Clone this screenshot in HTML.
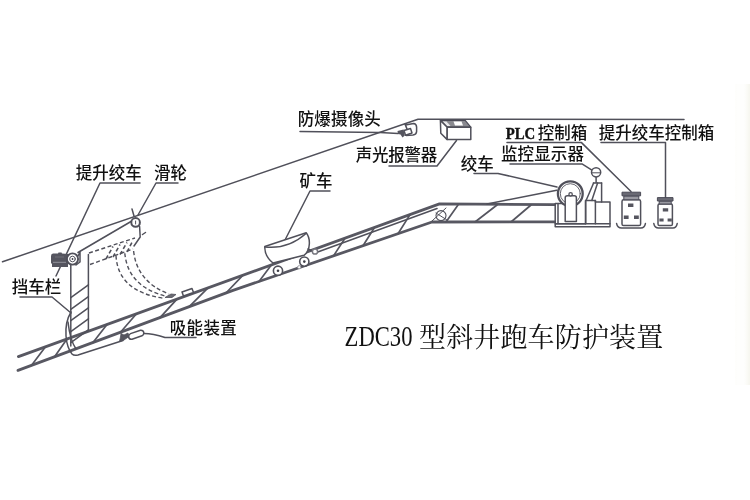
<!DOCTYPE html>
<html lang="zh-CN">
<head>
<meta charset="utf-8">
<title>ZDC30 型斜井跑车防护装置</title>
<style>
html,body{margin:0;padding:0;background:#fff;}
body{width:750px;height:500px;overflow:hidden;position:relative;}
svg{position:absolute;left:0;top:0;display:block;}
#art{filter:blur(0.35px);}
#labels{filter:blur(0.3px);}
.l{font-family:"Liberation Sans","Noto Sans CJK SC",sans-serif;font-size:16.5px;font-weight:500;fill:#111;letter-spacing:0px;}
.t{font-family:"Liberation Serif","Noto Serif CJK SC",serif;font-size:24px;fill:#111;}
.s{stroke:#50505a;stroke-width:1.5;fill:none;stroke-linecap:round;stroke-linejoin:round;}
.r{stroke:#585862;stroke-width:2.8;fill:none;stroke-linecap:round;stroke-linejoin:round;}
.b{stroke:#55555f;stroke-width:1.7;fill:none;stroke-linecap:round;}
.d{stroke:#50505a;stroke-width:1.4;fill:none;stroke-dasharray:4 2.5;}
.w{stroke:#50505a;stroke-width:1.5;fill:#fff;stroke-linejoin:round;}
.k{fill:#3c3c46;stroke:none;}
</style>
</head>
<body>
<svg width="750" height="500" viewBox="0 0 750 500">
<rect x="0" y="0" width="750" height="500" fill="#ffffff"/>
<defs><linearGradient id="edge" x1="0" y1="0" x2="1" y2="0"><stop offset="0" stop-color="#ffffff"/><stop offset="0.05" stop-color="#fdfdfa"/><stop offset="0.12" stop-color="#fefefd"/><stop offset="0.6" stop-color="#fefefd"/><stop offset="0.78" stop-color="#fbfbf7"/><stop offset="1" stop-color="#f6f6ef"/></linearGradient></defs>
<rect x="735" y="84" width="15" height="301" fill="url(#edge)"/>

<g id="art">
<!-- roof line -->
<g id="roof" class="s">
<path d="M2.5 261.8 L418 119.3 L684 119.4"/>
</g>

<!-- leader lines -->
<g id="leaders" class="s">
<path d="M140 183 L100 183 L56 276"/>
<path d="M178 183 L156 183 L138 215"/>
<path d="M20 297 L52 297 L71 313"/>
<path d="M196 337.5 L165 337.5 Q153 333.5 144 333.5"/>
<path d="M330 191 L310 191 L285 240"/>
<path d="M300 131.5 L380 132.5 L398 133.5"/>
<path d="M389 166 L437 166 L456.5 140.5"/>
<path d="M474 173.4 L498 173.4 L557 187"/>
<path d="M507 142.6 L581.5 142.6 L631 191.5"/>
<path d="M510 163.9 L582 163.9 L592.3 170.3"/>
<path d="M601 142.6 L665.5 142.6 L665.5 197.5"/>
</g>

<!-- track -->
<g id="track" class="r">
<path d="M18.4 356.6 L439.5 203.9 L554.5 204.7"/>
<path d="M18 370.4 L233 290.4 L432 222 L554.5 221.8"/>
</g>
<g id="rope" class="s">
<path d="M317 252.2 L437 208.6" style="stroke-width:1.6"/>
<circle cx="441" cy="215.6" r="5" style="stroke-width:1.1"/>
<path d="M432 221 L446 208 M436 213 L447 220" style="stroke-width:1"/>
</g>
<g id="braces" class="b">
<path d="M31.6 365.3 L45.5 346.8"/>
<path d="M54.4 356.9 L67 339.0"/>
<path d="M93 342.5 L107 324.5"/>
<path d="M120.5 332.3 L136.5 313.8"/>
<path d="M160 317.6 L177 299.1"/>
<path d="M189 306.8 L208 287.8"/>
<path d="M226 293.0 L243 275.2"/>
<path d="M259 281.5 L271.5 264.8"/>
<path d="M333.5 255.9 L345 238.2"/>
<path d="M363 245.7 L374.5 227.5"/>
<path d="M398 233.7 L410 214.6"/>
<path d="M446 222 L458 205"/>
<path d="M475 222 L497 205"/>
<path d="M511 222 L531 205"/>
</g>

<!-- left winch, column, pulley -->
<g id="leftwinch">
<path class="s" d="M70.8 264 L70.8 346 M88.4 254.5 L88.4 331"/>
<path class="s" d="M70.8 297.6 L88.4 284.8 M70.8 309.4 L88.4 296.6 M70.8 320.6 L88.4 307.8 M70.8 331.6 L88.4 318.8 M70.8 342.6 L88.4 329.8"/>
<path class="s" d="M71 312 Q65 322 66 336 Q67 348 72 354 Q74 356 78 355 L123 340.5"/>
<path class="s" d="M68 322 Q70 340 76 349"/>
<path class="k" d="M53 253.5 L58 253.5 L58.5 252.5 L61.5 252.5 L62 253.5 L68 254 L68 267 L52 267 L52 264 L51 263 L51 256 Q51 253.5 53 253.5 Z" style="fill:#55555f"/>
<path d="M53 262.3 L66 262.3" style="stroke:#9a9aa2;stroke-width:0.9;fill:none"/>
<path d="M55 257 L64 257" style="stroke:#77777f;stroke-width:0.8;fill:none"/>
<path class="s" d="M78 256 L80 252 L80 262 L76 265"/>
<circle class="w" cx="72.5" cy="259" r="5.6" style="stroke-width:1.9"/>
<circle class="s" cx="72.5" cy="259" r="2.8" style="stroke-width:1"/>
<circle class="k" cx="72.5" cy="259" r="0.9"/>
<path class="s" d="M78 252.5 L131 221.5"/>
<path class="s" d="M132 209 L134 216"/>
<circle class="w" cx="135.6" cy="222.4" r="4.3" style="stroke-width:2"/>
<path class="s" d="M135.6 221 L135.6 224" style="stroke-width:1"/>
<path class="s" d="M139.6 226.5 L140.2 237 L134 246 M142.5 234.5 L145.5 232.5"/>
</g>

<!-- dashed arm and arcs -->
<g id="dashed" class="d">
<path d="M89 253 L135 238"/>
<path d="M90 264.5 L133 249"/>
<path d="M106 259 L113 246.5 M113 257 L120 244.5 M120 254.5 L127 242.5 M127 252 L133 240.5" style="stroke-width:1.6"/>
<path d="M116 255.6 Q118 292 165 298.5"/>
<path d="M124.8 253.2 Q128 287 167 296.5"/>
<path d="M133.6 251 Q137 282 169 294"/>
</g>

<!-- small box on rail and absorber -->
<g id="absorber">
<path d="M165 297.5 L171 294 L176 294.5 L172 297.5 Z" style="fill:#6a6a72;stroke:#50505a;stroke-width:0.8"/>
<path class="w" d="M182 292 L192 288.5 L193.5 292.5 L183.5 296 Z"/>
<path class="w" d="M130.5 333.6 L140.5 330.2 Q143.4 330 143.8 332.6 Q144 334.8 142 335.8 L132 339.2 Q129.2 339.6 128.6 337 Q128.4 334.6 130.5 333.6 Z"/>
<path d="M119.5 341.5 L124 340 L129 336.5 L128 333 L124 335 L121 333.5 L120.5 337 Z" style="fill:#55555f;stroke:#50505a;stroke-width:0.8;stroke-linejoin:round"/>
</g>

<!-- mine cart -->
<g id="cart">
<path class="w" d="M264.8 246.5 L306.2 232.8 C310.5 238 311 250 304 255.3 L273 263 C268 259 264.5 253 264.8 246.5 Z"/>
<path class="s" d="M265 247 Q288 249.5 306 233.5"/>
<circle class="w" cx="278" cy="270.7" r="4.6" style="stroke-width:1.6"/>
<circle class="k" cx="278" cy="270.7" r="1.3"/>
<circle class="w" cx="304.3" cy="261.6" r="4.6" style="stroke-width:1.6"/>
<circle class="k" cx="304.3" cy="261.6" r="1.3"/>
<circle cx="299.2" cy="267.2" r="1.6" style="fill:#fff;stroke:#8a8a92;stroke-width:0.8"/>
<path class="s" d="M308 249 L312.5 251"/>
<circle class="w" cx="315" cy="251.5" r="2.6" style="stroke:#77777f"/>
</g>

<!-- camera -->
<g id="camera">
<path class="w" d="M405.5 125 L413.5 123.6 Q416.4 123.8 416.6 127 L416.6 131.5 Q416.4 134.6 413 135 L406 135.6"/>
<path class="w" d="M404 130.5 L410.5 128.5 L412 133 L405.5 135.2 Z"/>
<path class="s" d="M405 124 L407 129" style="stroke-width:1.6"/>
<path class="k" d="M397.5 131 L403.5 129.5 L404.8 135.5 L402.5 137.5 L400.5 134.5 L398 134 Z" style="fill:#55555f"/>
</g>

<!-- alarm box -->
<g id="alarm">
<path d="M440.4 120.4 L465.2 120.4 L470.8 127.2 L447.2 127.2 Z" style="fill:#8a8a90;stroke:#4b4b57;stroke-width:1.2;stroke-linejoin:round"/>
<path d="M453.5 121.6 L461.5 121.6 L463 125.4 L455 125.4 Z" style="fill:#fff"/>
<path d="M442.5 121.6 L447 126 L450.5 126 L446.5 121.6 Z" style="fill:#e8e8ea"/>
<path class="w" d="M440.4 120.4 L447.2 127.2 L447.2 139.6 L440.8 133.2 Z"/>
<path class="w" d="M447.2 127.2 L470.8 127.2 L470.8 139.6 L447.2 139.6 Z"/>
</g>

<!-- right winch + operator -->
<g id="winch">
<path class="s" d="M556.7 190.3 L487 204"/>
<path class="w" d="M555.2 203.6 L555.2 226.8 L610 226.8 L610 202 L595.4 202 L595.4 200.6 L585.6 200.6 L585.6 223.7 L555.2 223.7"/>
<path class="s" d="M558 204 L558 223.7 M555.2 223.7 L610 223.7 M555.2 203.6 L564 203.6"/>
<circle class="w" cx="570.3" cy="193.7" r="12.4" style="stroke-width:2.3"/>
<circle class="s" cx="570.3" cy="193.7" r="10" style="stroke-width:0.9"/>
<path class="w" d="M565.2 197.7 Q565.2 195.7 567.3 195.7 L574.3 195.7 Q576.4 195.7 576.4 197.7 L576.4 221.6 L565.2 221.6 Z"/>
<circle class="w" cx="570.6" cy="194.3" r="1.7" style="stroke-width:1.3"/>
<path class="s" d="M585.6 200.6 L585.6 223.7 M595.4 200.6 L595.4 223.7"/>
<path class="s" d="M593.6 183 L586.4 199.8 M597.6 183 L591.8 200.4 M601.6 183 L601.6 202"/>
<path class="s" d="M596.1 177 L596.1 183 M593.4 183 L601.6 183"/>
<circle class="w" cx="596.1" cy="172.3" r="4.6"/>
<path class="s" d="M592 172.8 L600.2 172.8" style="stroke-width:1"/>
</g>

<!-- control boxes -->
<g id="boxes">
<path class="w" d="M622 201.5 Q622 199.8 623.7 199.8 L638.9 199.8 Q640.6 199.8 640.6 201.5 L640.6 224 Q640.6 225.6 639 225.6 L623.6 225.6 Q622 225.6 622 224 Z"/>
<path d="M623.8 196 h15 v3.8 h-15 Z" style="fill:#9a9aa2;stroke:#4b4b57;stroke-width:1"/>
<path d="M622 192.2 h18.6 v3.6 h-18.6 Z" style="fill:#6a6a74;stroke:#4b4b57;stroke-width:1;stroke-linejoin:round"/>
<path class="k" d="M628 203.4 h5.4 v3.6 h-5.4 Z M623.8 215.4 h4.8 v3.6 h-4.8 Z M634 215.4 h4.8 v3.6 h-4.8 Z" style="fill:#55555f"/>
<path class="s" d="M616.6 223.6 Q617.5 228 621.5 228 L641 228 Q644.5 228 645.4 223.6"/>
<path class="w" d="M658 205.5 Q658 204 659.5 204 L671 204 Q672.4 204 672.4 205.5 L672.4 224 Q672.4 225.6 671 225.6 L659.5 225.6 Q658 225.6 658 224 Z"/>
<path d="M659.2 201 h12 v3 h-12 Z" style="fill:#9a9aa2;stroke:#4b4b57;stroke-width:1"/>
<path d="M657.4 197.6 h15.6 v3.4 h-15.6 Z" style="fill:#6a6a74;stroke:#4b4b57;stroke-width:1;stroke-linejoin:round"/>
<path class="k" d="M662.8 208.2 h5.4 v3.2 h-5.4 Z M659.4 218.4 h4.2 v3.2 h-4.2 Z M667.6 218.4 h4.2 v3.2 h-4.2 Z" style="fill:#55555f"/>
<path class="s" d="M653.8 223.6 Q654.7 228 658.5 228 L673 228 Q676.3 228 677.2 223.6"/>
</g>

</g>
<!-- labels -->
<g id="labels" style="opacity:0.999">
<text class="l" x="75.7" y="179.2">提升绞车</text>
<text class="l" x="153.9" y="179.2">滑轮</text>
<text class="l" x="11.7" y="293.4">挡车栏</text>
<text class="l" x="169.8" y="333.9" style="letter-spacing:0.3px">吸能装置</text>
<text class="l" x="299.6" y="186.9">矿车</text>
<text class="l" x="297.7" y="125.3" style="letter-spacing:0.15px">防爆摄像头</text>
<text class="l" x="355.7" y="160.6" style="letter-spacing:-0.25px">声光报警器</text>
<text class="l" x="460.7" y="170.4">绞车</text>
<text class="l" transform="translate(505.8 139.4) scale(0.84 1)" style="font-family:'Liberation Serif',serif;font-weight:bold;font-size:17.5px;letter-spacing:0;stroke:#111;stroke-width:0.45px">PLC</text>
<text class="l" x="537.7" y="139.4">控制箱</text>
<text class="l" x="501" y="160.3" style="letter-spacing:0.1px">监控显示器</text>
<text class="l" x="598.7" y="139.4">提升绞车控制箱</text>
<text class="t" transform="translate(344.6 346.2) scale(0.78 1)" style="font-size:29px">ZDC30</text>
<text class="t" x="419" y="347.2" style="font-size:27px;letter-spacing:0.15px">型斜井跑车防护装置</text>
</g>
</svg>
</body>
</html>
